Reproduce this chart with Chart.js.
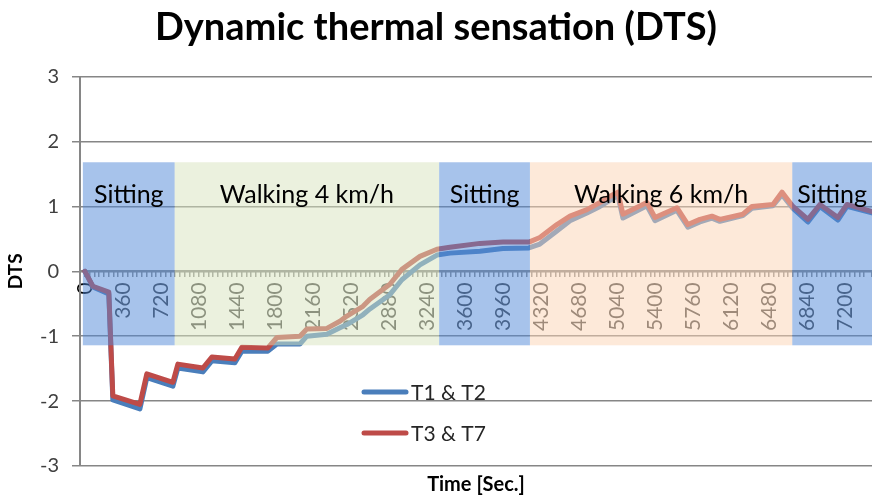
<!DOCTYPE html>
<html>
<head>
<meta charset="utf-8">
<script src="https://cdn.jsdelivr.net/npm/chart.js@4.4.1/dist/chart.umd.min.js"></script>
<style>
  html, body { margin: 0; padding: 0; background: #fff; }
  #wrap { width: 872px; height: 497px; }
</style>
</head>
<body>
<div id="wrap"><canvas id="chart"></canvas></div>
<script>
// Время (с) и значения DTS
const timeSec = [0, 75, 226, 264, 520, 586, 833, 880, 1117, 1202, 1420, 1486, 1733, 1818, 2036, 2102,
  2291, 2415, 2481, 2633, 2699, 2888, 3002, 3173, 3334, 3457, 3741, 3959, 4205, 4309, 4470, 4594,
  4755, 4878, 5001, 5048, 5096, 5323, 5399, 5607, 5711, 5825, 5939, 6014, 6232, 6318, 6517, 6602,
  6706, 6848, 6962, 7132, 7218, 7455];
const dtsT1T2 = [0, -0.24, -0.35, -1.98, -2.12, -1.64, -1.77, -1.49, -1.55, -1.38, -1.41, -1.23, -1.23, -1.12, -1.12, -1.0,
  -0.97, -0.87, -0.82, -0.67, -0.58, -0.36, -0.13, 0.1, 0.25, 0.28, 0.31, 0.35, 0.36, 0.42, 0.62, 0.78,
  0.9, 1.0, 1.12, 1.17, 0.82, 1.01, 0.78, 0.94, 0.68, 0.76, 0.82, 0.77, 0.86, 0.97, 1.01, 1.18,
  0.97, 0.76, 1.0, 0.79, 1.0, 0.9];
const dtsT3T7 = [0, -0.23, -0.32, -1.92, -2.05, -1.58, -1.71, -1.43, -1.49, -1.32, -1.35, -1.17, -1.18, -1.02, -1.0, -0.89,
  -0.88, -0.77, -0.69, -0.54, -0.43, -0.2, 0.03, 0.23, 0.34, 0.37, 0.43, 0.45, 0.45, 0.52, 0.72, 0.85,
  0.95, 1.06, 1.18, 1.22, 0.88, 1.06, 0.83, 0.98, 0.72, 0.80, 0.85, 0.80, 0.88, 1.0, 1.03, 1.22,
  1.0, 0.80, 1.03, 0.83, 1.03, 0.92];

// Фазы эксперимента
const regionNames = ['Sitting', 'Walking 4 km/h', 'Sitting', 'Walking 6 km/h', 'Sitting'];
const regionStart = [-20, 850, 3355, 4215, 6700];
const regionEnd   = [850, 3355, 4215, 6700, 7455];
const regionColors = ['rgba(79,135,215,0.5)', 'rgba(215,227,189,0.5)', 'rgba(79,135,215,0.5)',
  'rgba(251,211,179,0.5)', 'rgba(79,135,215,0.5)'];
const boxTop = 1.68, boxBottom = -1.14, labelLevel = 1.06;

const FONT = 'Lato, "Open Sans", sans-serif';

const regionsPlugin = {
  id: 'regions',
  afterDatasetsDraw(chart) {
    const { ctx, scales: { x, y } } = chart;
    const yTop = y.getPixelForValue(boxTop);
    const yBot = y.getPixelForValue(boxBottom);
    ctx.save();
    regionNames.forEach((name, i) => {
      const x0 = x.getPixelForValue(regionStart[i]);
      const x1 = x.getPixelForValue(regionEnd[i]);
      ctx.fillStyle = regionColors[i];
      ctx.fillRect(x0, yTop, x1 - x0, yBot - yTop);
    });
    ctx.fillStyle = '#000';
    ctx.font = '25px ' + FONT;
    ctx.textAlign = 'center';
    ctx.textBaseline = 'alphabetic';
    regionNames.forEach((name, i) => {
      const cx = (x.getPixelForValue(regionStart[i]) + x.getPixelForValue(regionEnd[i])) / 2;
      ctx.fillText(name, cx, y.getPixelForValue(labelLevel));
    });
    ctx.restore();
  }
};

// Легенда внутри области графика
const legendPlugin = {
  id: 'innerLegend',
  afterDraw(chart) {
    const ctx = chart.ctx;
    const items = [chart.data.datasets[0], chart.data.datasets[1]];
    ctx.save();
    ctx.font = '21px ' + FONT;
    ctx.textBaseline = 'middle';
    ctx.textAlign = 'left';
    items.forEach((ds, i) => {
      const yy = 392 + i * 41;
      ctx.strokeStyle = ds.borderColor;
      ctx.lineWidth = 5;
      ctx.lineCap = 'round';
      ctx.beginPath();
      ctx.moveTo(364, yy);
      ctx.lineTo(406, yy);
      ctx.stroke();
      ctx.fillStyle = '#262626';
      ctx.fillText(ds.label, 411, yy + 1);
    });
    ctx.restore();
  }
};

new Chart(document.getElementById('chart'), {
  type: 'line',
  data: {
    datasets: [
      {
        label: 'T1 & T2',
        data: timeSec.map((t, i) => ({ x: t, y: dtsT1T2[i] })),
        borderColor: '#4A7EBB',
        borderWidth: 5,
        order: 2,
      },
      {
        label: 'T3 & T7',
        data: timeSec.map((t, i) => ({ x: t, y: dtsT3T7[i] })),
        borderColor: '#BE4B48',
        borderWidth: 5,
        order: 1,
      },
    ]
  },
  options: {
    responsive: true,
    maintainAspectRatio: false,
    animation: false,
    layout: { padding: { left: 0, right: 0, top: 0, bottom: 0 } },
    elements: {
      point: { radius: 0 },
      line: { tension: 0, borderJoinStyle: 'round', borderCapStyle: 'round' },
    },
    plugins: {
      legend: { display: false },
      tooltip: { enabled: false },
      title: {
        display: true,
        text: 'Dynamic thermal sensation (DTS)',
        color: '#000',
        font: { family: FONT, size: 38, weight: 'bold', lineHeight: 1.2 },
        padding: { top: 5, bottom: 26 },
      },
      subtitle: {
        display: true,
        position: 'bottom',
        fullSize: false,
        text: 'Time [Sec.]',
        color: '#000',
        font: { family: FONT, size: 20, weight: 'bold', lineHeight: 1.2 },
        padding: { top: 7, bottom: 0 },
      },
    },
    scales: {
      x: {
        type: 'linear',
        position: { y: 0 },
        min: -47,
        max: 7455,
        afterFit: s => { s.paddingLeft = 0; s.paddingRight = 0; },
        grid: { drawOnChartArea: false, drawTicks: true, tickLength: 5, color: '#8c8c8c', lineWidth: 1.5 },
        border: { color: '#868686', width: 2 },
        ticks: {
          stepSize: 45,
          autoSkip: false,
          minRotation: 90,
          maxRotation: 90,
          padding: 6,
          font: { family: FONT, size: 21 },
          color: c => (c.tick && c.tick.value === 0 ? '#000' : '#404040'),
          callback: v => (v >= 0 && v % 360 === 0 ? String(v) : ''),
        },
      },
      y: {
        min: -3,
        max: 3,
        afterFit: s => { s.width = 80; },
        grid: { color: '#868686', lineWidth: 1.5, tickLength: 8 },
        border: { color: '#868686', width: 2 },
        ticks: {
          stepSize: 1,
          padding: 13,
          color: '#404040',
          font: { family: FONT, size: 20 },
        },
        title: {
          display: true,
          text: 'DTS',
          color: '#000',
          font: { family: FONT, size: 19, weight: 'bold' },
          padding: { top: 4, bottom: 0 },
        },
      },
    },
  },
  plugins: [regionsPlugin, legendPlugin],
});
</script>
</body>
</html>
